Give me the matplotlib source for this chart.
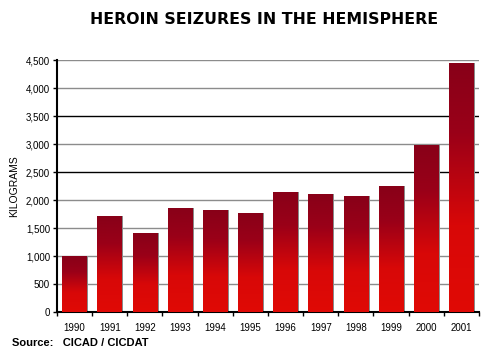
import matplotlib
matplotlib.use("Agg")
import matplotlib.pyplot as plt
import numpy as np
from matplotlib.colors import LinearSegmentedColormap
from matplotlib.ticker import FuncFormatter

years = ["1990", "1991", "1992", "1993", "1994", "1995",
         "1996", "1997", "1998", "1999", "2000", "2001"]
kilograms = [1000, 1710, 1410, 1860, 1820, 1770, 2150, 2110, 2070, 2250, 2990, 4440]
yticks = [0, 500, 1000, 1500, 2000, 2500, 3000, 3500, 4000, 4500]

plt.rcParams['font.family'] = ['Liberation Sans', 'DejaVu Sans']

fig = plt.figure(figsize=(4.93, 3.52), dpi=100)
ax = fig.add_axes([57/493, 1 - 312/352, 422/493, 252/352])

# gridlines: alternate dark / gray as in the original rendering
for v in yticks[1:]:
    col = "black" if v in (2500, 3500) else "#8c8c8c"
    ax.axhline(v, color=col, lw=1.0, zorder=1)

# red gradient, dark at top, bright at bottom
cmap = LinearSegmentedColormap.from_list(
    "heroin", [(0.0, "#e00a05"), (0.35, "#d80808"), (0.72, "#9a0018"), (1.0, "#880018")])
grad = np.linspace(0, 1, 256).reshape(-1, 1)

x = np.arange(len(years))
width = 0.70
# shadow bars
ax.bar(x + 0.04, kilograms, width, color="#8a8a8a", zorder=2)
bars = ax.bar(x, kilograms, width, color="#c00010", zorder=3)
for b in bars:
    x0, y0 = b.get_x(), b.get_y()
    w, h = b.get_width(), b.get_height()
    im = ax.imshow(grad, cmap=cmap, aspect="auto", origin="lower",
                   extent=[x0, x0 + w, y0, y0 + h], zorder=4)
    im.set_clip_path(b)

ax.set_xlim(-0.5, len(years) - 0.5)
ax.set_ylim(0, 4500)
ax.set_yticks(yticks)
ax.yaxis.set_major_formatter(FuncFormatter(lambda v, p: f"{int(v):,}"))
ax.set_xticks(x)
ax.set_xticklabels(years)
ax.set_xticks(np.arange(-0.5, len(years)), minor=True)
ax.tick_params(axis="x", which="major", length=0, labelsize=7, pad=8)
ax.tick_params(axis="x", which="minor", length=3, width=1, direction="out")
ax.tick_params(axis="y", length=3, width=1, labelsize=7, pad=2)

for s in ["top", "right"]:
    ax.spines[s].set_visible(False)
ax.spines["left"].set_linewidth(1.5)
ax.spines["bottom"].set_linewidth(1.5)

ax.set_ylabel("KILOGRAMS", fontsize=7.5, labelpad=5)

fig.text(264/493, 1 - 20/352, "HEROIN SEIZURES IN THE HEMISPHERE",
         ha="center", va="center", fontsize=11.3, fontweight="bold",
         family=["DejaVu Sans"])
fig.text(12/493, 1 - 343/352, "Source:   CICAD / CICDAT", ha="left", va="center",
         fontsize=8, fontweight="bold")

fig.savefig("out.png", dpi=100)
